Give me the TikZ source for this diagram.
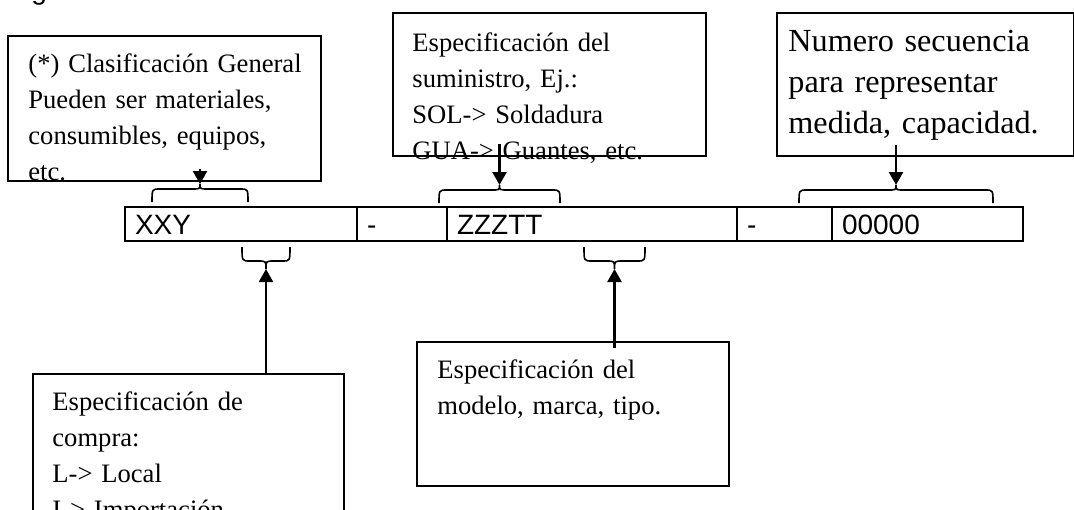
\documentclass[tikz,border=0pt]{standalone}
\usepackage{fontspec}
\setmainfont{Liberation Serif}
\newfontfamily\arialfont{Liberation Sans}
\usepackage{tikz}
\usetikzlibrary {arrows.meta}
\usetikzlibrary{calc}
\usetikzlibrary{positioning}

\newcommand{\boxfont}{\fontsize{13.3}{15}\selectfont}
\newcommand{\bigboxfont}{\fontsize{16.1}{19.5}\selectfont}

% curly brace over a field, tip up: name of tip, left x, right x, y of the ends
\newcommand{\braceup}[4]{%
	\draw[brc] (#2,#4) .. controls (#2,#4-13) .. (#2+8,#4-13) -- ({(#2+#3)/2-8},#4-13) .. controls ({(#2+#3)/2},#4-13) .. ({(#2+#3)/2},#4-18)
		.. controls ({(#2+#3)/2},#4-13) .. ({(#2+#3)/2+8},#4-13) -- (#3-8,#4-13) .. controls (#3,#4-13) .. (#3,#4);
	\coordinate (#1) at ({(#2+#3)/2},#4-18);}
% same, tip down
\newcommand{\bracedown}[4]{%
	\draw[brc] (#2,#4) .. controls (#2,#4+14) .. (#2+8,#4+14) -- ({(#2+#3)/2-8},#4+14) .. controls ({(#2+#3)/2},#4+14) .. ({(#2+#3)/2},#4+22)
		.. controls ({(#2+#3)/2},#4+14) .. ({(#2+#3)/2+8},#4+14) -- (#3-8,#4+14) .. controls (#3,#4+14) .. (#3,#4);
	\coordinate (#1) at ({(#2+#3)/2},#4+22);}

\begin{document}
\begin{tikzpicture}[x=0.5pt, y=-0.5pt,
	box/.style={draw, line width=1pt, anchor=north west, inner sep=0pt},
	txt/.style={anchor=north west, inner sep=0pt, text width=140pt, align=left, font=\boxfont},
	cell/.style={draw, line width=1pt, outer sep=0pt, minimum height=17pt, inner xsep=5pt, inner ysep=0pt,
		align=left, text height=10pt, text depth=0pt, font=\arialfont\fontsize{14}{16}\selectfont},
	arr/.style={line width=1.2pt, -{Triangle[length=6.5pt,width=7pt]}},
	brc/.style={line width=0.8pt}]
	\useasboundingbox (0,0) rectangle (1074,509);
	\clip (0,0) rectangle (1074,509);

	\node[anchor=base west, inner sep=0pt, font=\arialfont\fontsize{14}{16}\selectfont] (fig) at (31,-1) {g};% cut off caption

	% the code bar
	\node[cell, text width=106pt, anchor=north west] (cxxy) at (125,207) {XXY};
	\node[cell, text width=35pt, right=0pt of cxxy] (cdash1) {-};
	\node[cell, text width=135pt, right=0pt of cdash1] (czzz) {ZZZTT};
	\node[cell, text width=37.5pt, right=0pt of czzz] (cdash2) {-};
	\node[cell, text width=85.5pt, right=0pt of cdash2] (cnum) {00000};

	% boxes above
	\node[box, minimum width=156.5pt, minimum height=72.5pt] (clasif) at (7,35) {};
	\node[txt] (clasiftxt) at (28,53) {(*) Clasificación General\\[3pt]Pueden ser materiales,\\[3pt]consumibles, equipos,\\[3pt]etc.\par};
	\node[box, minimum width=156.5pt, minimum height=71.5pt] (suministro) at (392,12) {};
	\node[txt] (suministrotxt) at (412,32) {Especificación del\\[3pt]suministro, Ej.:\\[3pt]SOL-> Soldadura\\[3pt]GUA-> Guantes, etc.\par};
	\node[box, minimum width=148.5pt, minimum height=71.5pt] (secuencia) at (776,12) {};
	\node[txt, font=\bigboxfont] (secuenciatxt) at (788,30) {Numero secuencia\\[1pt]para representar\\[1pt]medida, capacidad.\par};

	% boxes below
	\node[box, minimum width=155.5pt, minimum height=100pt] (compra) at (32,373) {};
	\node[txt] (compratxt) at (52,391) {Especificación de\\[3pt]compra:\\[3pt]L-> Local\\[3pt]I-> Importación\par};
	\node[box, minimum width=156pt, minimum height=72pt] (modelo) at (416,341) {};
	\node[txt] (modelotxt) at (437,359) {Especificación del\\[3pt]modelo, marca, tipo.\par};

	% braces
	\braceup{brA}{152}{248}{202}
	\braceup{brB}{439}{560}{203}
	\braceup{brC}{799}{993}{203}
	\bracedown{brD}{242}{290}{247}
	\bracedown{brE}{584}{645}{247}

	% arrows
	\draw[arr] ($(clasif.south -| brA)+(0,-13)$) -- (brA);
	\draw[arr] ($(suministro.south -| brB)+(0,-13)$) -- (brB);
	\draw[arr] ($(secuencia.south -| brC)+(0,-12)$) -- (brC);
	\draw[arr] (compra.north -| brD) -- (brD);
	\draw[arr] ($(modelo.north -| brE)+(0,7)$) -- (brE);
\end{tikzpicture}
\end{document}
